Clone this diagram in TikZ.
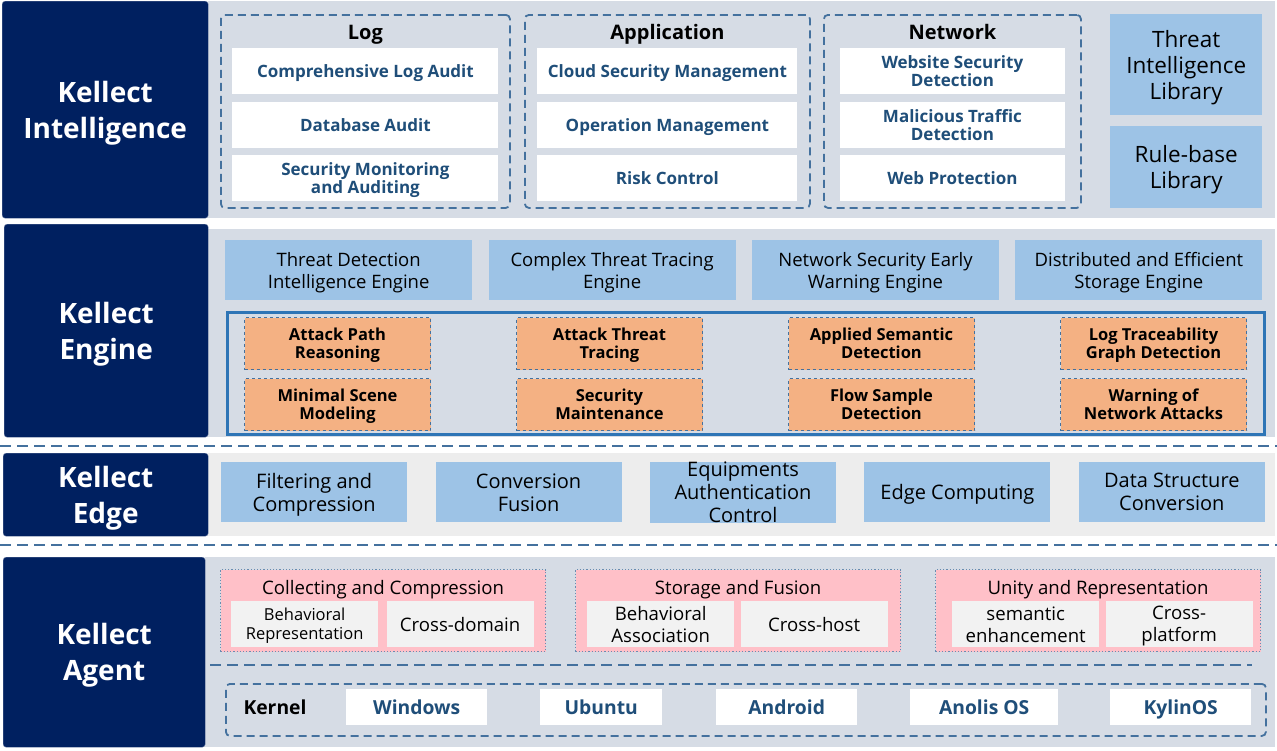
\documentclass[tikz,border=0pt]{standalone}
\usepackage{fontspec}
\setmainfont{Open Sans}
\usepackage{tikz}
\usetikzlibrary{positioning,calc}
\definecolor{navy}{HTML}{002060}
\definecolor{bandgray}{HTML}{D6DCE5}
\definecolor{edgegray}{HTML}{EDEDED}
\definecolor{lightblue}{HTML}{9DC3E6}
\definecolor{orangefill}{HTML}{F4B183}
\definecolor{pinkfill}{HTML}{FFC0C8}
\definecolor{subgray}{HTML}{F2F2F2}
\definecolor{dashblue}{HTML}{44719E}
\definecolor{itemblue}{HTML}{1F4E79}
\definecolor{frameblue}{HTML}{2E75B6}
\newcommand{\fs}[2]{\fontsize{#1}{#2}\selectfont}
\tikzstyle{layer}=[
	 anchor=north west, fill=navy, draw=navy!60!white,
	 rounded corners=3pt, text=white, align=center, inner sep=0pt,
	 font=\bfseries\fs{28}{36}
    ]
\tikzstyle{band}=[anchor=north west, fill=bandgray, inner sep=0pt]
\tikzstyle{group}=[
	 anchor=north west, draw=dashblue, line width=1.8pt,
	 dash pattern=on 8pt off 5pt, rounded corners=4pt, inner sep=0pt
    ]
\tikzstyle{gtitle}=[font=\bfseries\fs{20}{22}, inner sep=0pt]
\tikzstyle{item}=[
	 fill=white, minimum height=46, inner sep=0pt, align=center,
	 text=itemblue, font=\bfseries\fs{17}{18}
    ]
\tikzstyle{lib}=[
	 anchor=north west, fill=lightblue, minimum width=152,
	 inner sep=0pt, align=center, font=\fs{22.5}{26}
    ]
\tikzstyle{engbox}=[
	 anchor=north west, fill=lightblue, minimum width=247, minimum height=60,
	 inner sep=0pt, align=center, font=\fs{18.5}{22}
    ]
\tikzstyle{frame}=[anchor=north west, draw=frameblue, line width=3pt, inner sep=0pt]
\tikzstyle{tech}=[
	 anchor=north west, fill=orangefill, draw=dashblue, dashed, line width=1pt,
	 minimum width=186, minimum height=52, inner sep=0pt, align=center,
	 font=\bfseries\fs{16.5}{18}
    ]
\tikzstyle{edgebox}=[
	 anchor=north west, fill=lightblue, minimum width=186, minimum height=60,
	 inner sep=0pt, align=center, font=\fs{20}{23}
    ]
\tikzstyle{sep}=[draw=dashblue, line width=1.8pt, dash pattern=on 11pt off 6pt]
\tikzstyle{pinkgroup}=[
	 anchor=north west, fill=pinkfill, draw=dashblue!80, dotted, line width=1.2pt,
	 minimum width=325, minimum height=82, inner sep=0pt
    ]
\tikzstyle{ptitle}=[font=\fs{18.6}{20}, inner sep=0pt]
\tikzstyle{sub}=[
	 anchor=north west, fill=subgray, minimum width=147, minimum height=46,
	 inner sep=0pt, align=center, font=\fs{18.6}{22}
    ]
\tikzstyle{osbox}=[
	 anchor=north west, fill=white, minimum height=36, inner sep=0pt,
	 text=itemblue, font=\bfseries\fs{19.3}{20}
    ]

\begin{document}
\begin{tikzpicture}[x=1pt,y=-1pt,every node/.append style={text depth=0pt}]
\useasboundingbox (0,0) rectangle (1277,750);

% Kellect Intelligence
\node[band, minimum width=1067, minimum height=217] (intelbg) at (208,1) {};
\node[layer, minimum width=206, minimum height=217] (intel) at (2,1) {Kellect\\Intelligence};

\node[group, minimum width=289, minimum height=193] (log) at (220,14) {};
\node[gtitle] (logt) at ([yshift=-18pt]log.north) {Log};
\node[item, minimum width=266, below=34pt of log.north] (log1) {Comprehensive Log Audit};
\node[item, minimum width=266, below=7pt of log1] (log2) {Database Audit};
\node[item, minimum width=266, below=7pt of log2] (log3) {Security Monitoring\\and Auditing};

\node[group, minimum width=285, minimum height=193] (app) at (524,14) {};
\node[gtitle] (appt) at ([yshift=-18pt]app.north) {Application};
\node[item, minimum width=260, below=34pt of app.north] (app1) {Cloud Security Management};
\node[item, minimum width=260, below=7pt of app1] (app2) {Operation Management};
\node[item, minimum width=260, below=7pt of app2] (app3) {Risk Control};

\node[group, minimum width=257, minimum height=193] (net) at (823,14) {};
\node[gtitle] (nett) at ([yshift=-18pt]net.north) {Network};
\node[item, minimum width=225, below=34pt of net.north] (net1) {Website Security\\Detection};
\node[item, minimum width=225, below=7pt of net1] (net2) {Malicious Traffic\\Detection};
\node[item, minimum width=225, below=7pt of net2] (net3) {Web Protection};

\node[lib, minimum height=101] (til) at (1110,14) {Threat\\Intelligence\\Library};
\node[lib, minimum height=82, below=10pt of til] (rbl) {Rule-base\\Library};

% Kellect Engine
\node[band, minimum width=1067, minimum height=208] (engbg) at (208,229) {};
\node[layer, minimum width=204, minimum height=213] (engine) at (4,224) {Kellect\\Engine};

\node[engbox] (eng1) at (225,240) {Threat Detection\\Intelligence Engine};
\node[engbox, right=16pt of eng1] (eng2) {Complex Threat Tracing\\Engine};
\node[engbox, right=16pt of eng2] (eng3) {Network Security Early\\Warning Engine};
\node[engbox, right=16pt of eng3] (eng4) {Distributed and Efficient\\Storage Engine};

\node[frame, minimum width=1037, minimum height=122] (core) at (226,311) {};
\node[tech] (t1) at (244,317) {Attack Path\\Reasoning};
\node[tech, right=85pt of t1] (t2) {Attack Threat\\Tracing};
\node[tech, right=85pt of t2] (t3) {Applied Semantic\\Detection};
\node[tech, right=85pt of t3] (t4) {Log Traceability\\Graph Detection};
\node[tech, below=8pt of t1] (t5) {Minimal Scene\\Modeling};
\node[tech, below=8pt of t2] (t6) {Security\\Maintenance};
\node[tech, below=8pt of t3] (t7) {Flow Sample\\Detection};
\node[tech, below=8pt of t4] (t8) {Warning of\\Network Attacks};

\coordinate (s1l) at (0,446);
\coordinate (s1r) at (1277,446);
\draw[sep] (s1l) -- (s1r);

% Kellect Edge
\node[band, fill=edgegray, minimum width=1067, minimum height=83] (edgebg) at (208,453) {};
\node[layer, minimum width=205, minimum height=83] (edge) at (3,453) {Kellect\\Edge};

\node[edgebox] (ed1) at (221,462) {Filtering and\\Compression};
\node[edgebox, right=28pt of ed1] (ed2) {Conversion\\Fusion};
\node[edgebox, right=28pt of ed2] (ed3) {Equipments\\Authentication\\Control};
\node[edgebox, right=28pt of ed3] (ed4) {Edge Computing};
\node[edgebox, right=28pt of ed4] (ed5) {Data Structure\\Conversion};

\coordinate (s2l) at (0,545);
\coordinate (s2r) at (1277,545);
\draw[sep] (s2l) -- (s2r);

% Kellect Agent
\node[band, minimum width=1070, minimum height=190] (agentbg) at (205,557) {};
\node[layer, minimum width=202, minimum height=190] (agent) at (3,557) {Kellect\\Agent};

\node[pinkgroup] (col) at (220,569) {};
\node[ptitle] (colt) at ([yshift=-18pt]col.north) {Collecting and Compression};
\node[sub, font=\fs{16.5}{19}] (col1) at ([xshift=11pt,yshift=-32pt]col.north west) {Behavioral\\Representation};
\node[sub, right=8pt of col1] (col2) {Cross-domain};

\node[pinkgroup] (sto) at (575,569) {};
\node[ptitle] (stot) at ([yshift=-18pt]sto.north) {Storage and Fusion};
\node[sub] (sto1) at ([xshift=12pt,yshift=-32pt]sto.north west) {Behavioral\\Association};
\node[sub, right=6pt of sto1] (sto2) {Cross-host};

\node[pinkgroup] (uni) at (935,569) {};
\node[ptitle] (unit) at ([yshift=-18pt]uni.north) {Unity and Representation};
\node[sub] (uni1) at ([xshift=17pt,yshift=-32pt]uni.north west) {semantic\\enhancement};
\node[sub, right=6pt of uni1] (uni2) {Cross-\\platform};

\coordinate (dl) at (210,665);
\coordinate (dr) at (1252,665);
\draw[sep] (dl) -- (dr);

\node[group, minimum width=1040, minimum height=52] (kern) at (225,683) {};
\node[gtitle, font=\bfseries\fs{19.3}{20}] (klab) at (275,707) {Kernel};
\node[osbox, minimum width=141] (os1) at (346,689) {Windows};
\node[osbox, minimum width=122] (os2) at (540,689) {Ubuntu};
\node[osbox, minimum width=141] (os3) at (716,689) {Android};
\node[osbox, minimum width=148] (os4) at (910,689) {Anolis OS};
\node[osbox, minimum width=141] (os5) at (1110,689) {KylinOS};

\end{tikzpicture}
\end{document}
